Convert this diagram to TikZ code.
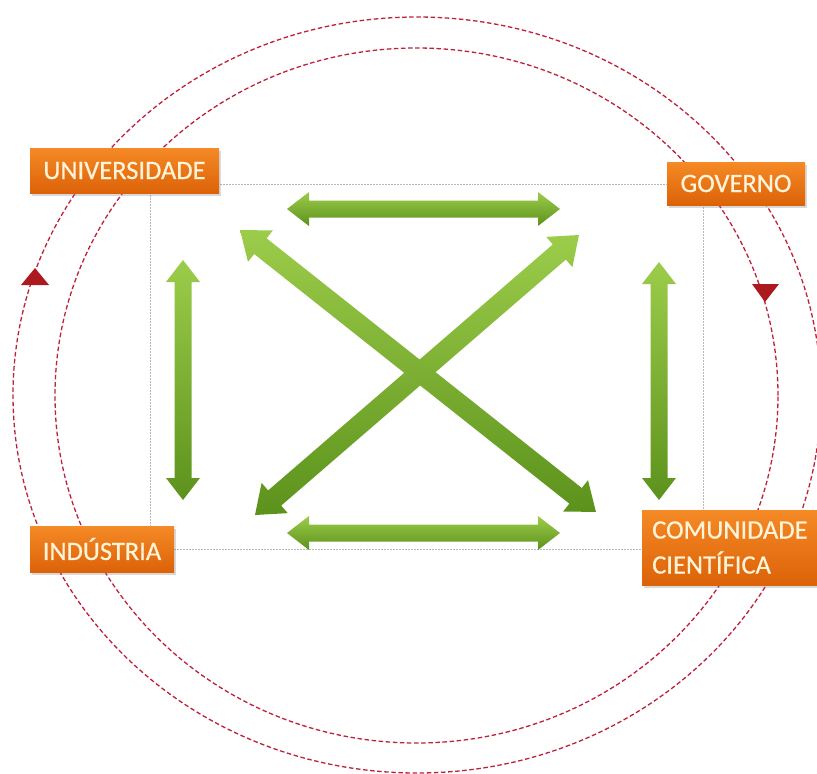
\documentclass[tikz,border=0pt]{standalone}
\usepackage{fontspec}
\setmainfont{Carlito}
\newfontfamily\actorfont[FakeBold=0.6]{Carlito}
\usetikzlibrary{calc,shadows}

\definecolor{ringred}{RGB}{190,32,58}
\definecolor{tipred}{RGB}{172,26,32}
\definecolor{boxtop}{RGB}{245,138,38}
\definecolor{boxbot}{RGB}{220,98,8}
\definecolor{boxtext}{RGB}{255,243,216}
\definecolor{leaflight}{RGB}{156,204,74}
\definecolor{leafdark}{RGB}{92,146,28}

\tikzset{
  ring/.style={ringred, line width=1.3pt, dash pattern=on 4.5pt off 2.6pt},
  turntip/.style={fill=tipred},
  actor/.style={top color=boxtop, bottom color=boxbot, draw=none, text=boxtext,
    font=\actorfont\fontsize{26.5}{35}\selectfont, inner sep=0pt,
    drop shadow={shadow xshift=1.5pt, shadow yshift=-2.5pt, opacity=0.3}},
  frame/.style={draw=gray!55, line width=0.5pt, densely dotted},
  leaf/.style={top color=leaflight, bottom color=leafdark, draw=none},
}

% sizes of a block arrow: half shaft width / half head width / head length (pt)
\def\leafsizes#1/#2/#3\relax{\def\leafshaft{#1}\def\leafhead{#2}\def\leafheadlen{#3}}

% double-headed block arrow between two named coordinates
\newcommand\leafarrow[3][8.5/17/22]{%
  \leafsizes#1\relax
  \pgfmathanglebetweenpoints{\pgfpointanchor{#2}{center}}{\pgfpointanchor{#3}{center}}%
  \let\leafangle\pgfmathresult
  \pgfpointdiff{\pgfpointanchor{#2}{center}}{\pgfpointanchor{#3}{center}}%
  \pgfgetlastxy{\leafdx}{\leafdy}%
  \pgfmathsetmacro\leaflen{veclen(\leafdx,\leafdy)}%
  \pgfmathsetmacro\leafneck{\leaflen-\leafheadlen}%
  \begin{scope}[shift={(#2)}, rotate=\leafangle]
    \shade[leaf] (0pt,0pt) -- (\leafheadlen pt,\leafhead pt) -- (\leafheadlen pt,\leafshaft pt)
      -- (\leafneck pt,\leafshaft pt) -- (\leafneck pt,\leafhead pt) -- (\leaflen pt,0pt)
      -- (\leafneck pt,-\leafhead pt) -- (\leafneck pt,-\leafshaft pt)
      -- (\leafheadlen pt,-\leafshaft pt) -- (\leafheadlen pt,-\leafhead pt) -- cycle;
  \end{scope}
}

\begin{document}
\begin{tikzpicture}[x=1pt, y=-1pt]
  \useasboundingbox (0,0) rectangle (817,774);
  \begin{scope}
    \clip (0,0) rectangle (817,774);

    % the two dashed cycles
    \draw[ring] (417,395) ellipse [x radius=404pt, y radius=378pt];
    \draw[ring] (416.5,395.5) ellipse [x radius=361.5pt, y radius=347.5pt];

    % direction marks on the cycles
    \fill[turntip] (35,268) -- (21,285) -- (49,285) -- cycle;
    \fill[turntip] (752,284) -- (779,284) -- (765,302) -- cycle;

    % frame joining the four actors
    \draw[frame] (150,184) rectangle (703,549);

    % arrow end points
    \coordinate (topL) at (287,209);
    \coordinate (topR) at (560,209);
    \coordinate (botL) at (287,533);
    \coordinate (botR) at (560,533);
    \coordinate (leftB) at (183,500);
    \coordinate (leftT) at (183,260);
    \coordinate (rightB) at (659,500);
    \coordinate (rightT) at (659,262);
    \coordinate (diagTL) at (240,230);
    \coordinate (diagBR) at (596,512);
    \coordinate (diagBL) at (255,515);
    \coordinate (diagTR) at (579,235);

    \leafarrow{topL}{topR}
    \leafarrow{botL}{botR}
    \leafarrow{leftB}{leftT}
    \leafarrow{rightB}{rightT}
    \leafarrow[10/20/26]{diagBL}{diagTR}
    \leafarrow[10/20/26]{diagTL}{diagBR}

    % actors
    \node[actor, minimum width=189pt, minimum height=45pt] (univ) at (124.5,170.5) {UNIVERSIDADE};
    \node[actor, minimum width=138pt, minimum height=43pt] (gov) at (736,183.5) {GOVERNO};
    \node[actor, minimum width=144pt, minimum height=46pt] (ind) at (102,549) {INDÚSTRIA};
    \node[actor, minimum height=75pt, align=left, anchor=west, inner xsep=10pt] (com)
      at (642,547.5) {COMUNIDADE\\CIENTÍFICA};
  \end{scope}
\end{tikzpicture}
\end{document}
